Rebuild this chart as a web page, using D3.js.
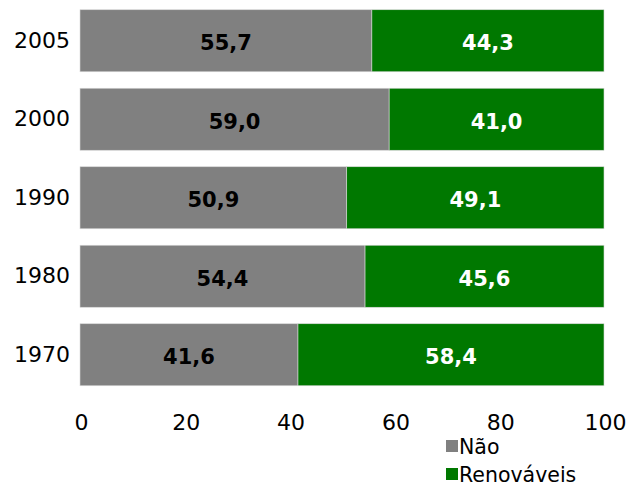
<!DOCTYPE html>
<html>
<head>
<meta charset="utf-8">
<script src="https://cdn.jsdelivr.net/npm/d3@7"></script>
<style>
  html, body { margin: 0; padding: 0; background: #fff; }
  svg { display: block; font-family: "DejaVu Sans", Verdana, sans-serif; }
</style>
</head>
<body>
<svg id="chart" width="627" height="486"></svg>
<script>
// Participação das fontes na matriz energética (%)
const years = ["2005", "2000", "1990", "1980", "1970"];
const naoRenovaveis = [55.7, 59.0, 50.9, 54.4, 41.6];
const renovaveis = [44.3, 41.0, 49.1, 45.6, 58.4];
const xTicks = [0, 20, 40, 60, 80, 100];
const seriesNames = ["Não", "Renováveis"];
const seriesColors = ["#808080", "#007800"];
const labelColors = ["#000", "#fff"];

const svg = d3.select("#chart");

const x = d3.scaleLinear().domain([0, 100]).range([80, 604]);
const y = d3.scaleBand().domain(years).range([1.5, 394]).paddingInner(0.21).paddingOuter(0.105);

const rows = years.map((yr, i) => ({ year: yr, nao: naoRenovaveis[i], ren: renovaveis[i] }));
const stacked = d3.stack().keys(["nao", "ren"])(rows);

const fmt = v => v.toFixed(1).replace(".", ",");

stacked.forEach((layer, k) => {
  const g = svg.append("g");
  g.selectAll("rect")
    .data(layer)
    .join("rect")
    .attr("x", d => x(d[0]))
    .attr("y", d => y(d.data.year))
    .attr("width", d => x(d[1]) - x(d[0]))
    .attr("height", y.bandwidth())
    .attr("fill", seriesColors[k])
    .attr("stroke", "#d8d8d8")
    .attr("stroke-width", 0.6);

  g.selectAll("text")
    .data(layer)
    .join("text")
    .attr("x", d => (x(d[0]) + x(d[1])) / 2)
    .attr("y", d => y(d.data.year) + y.bandwidth() / 2 + 2)
    .attr("dy", "0.36em")
    .attr("text-anchor", "middle")
    .attr("font-weight", "bold")
    .attr("font-size", 21)
    .attr("fill", labelColors[k])
    .text(d => fmt(d[1] - d[0]));
});

// Eixo das categorias
const yAxis = svg.append("g")
  .attr("transform", "translate(80,0)")
  .call(d3.axisLeft(y).tickSize(0).tickPadding(10));
yAxis.select(".domain").remove();
yAxis.selectAll("text")
  .attr("font-size", 22)
  .attr("font-family", "DejaVu Sans, Verdana, sans-serif")
  .attr("fill", "#000");

// Eixo dos valores
const xAxis = svg.append("g")
  .attr("transform", "translate(1,412)")
  .call(d3.axisBottom(x).tickValues(xTicks).tickSize(0).tickPadding(2));
xAxis.select(".domain").remove();
xAxis.selectAll("text")
  .attr("font-size", 22)
  .attr("font-family", "DejaVu Sans, Verdana, sans-serif")
  .attr("fill", "#000");

// Legenda
const legend = svg.append("g").attr("transform", "translate(446,440)");
seriesNames.forEach((name, i) => {
  const row = legend.append("g").attr("transform", `translate(0,${i * 28})`);
  row.append("rect").attr("width", 12).attr("height", 12).attr("y", 0).attr("fill", seriesColors[i]);
  row.append("text")
    .attr("x", 13)
    .attr("y", 13.5)
    .attr("font-size", 20.5)
    .attr("fill", "#000")
    .text(name);
});
</script>
</body>
</html>
